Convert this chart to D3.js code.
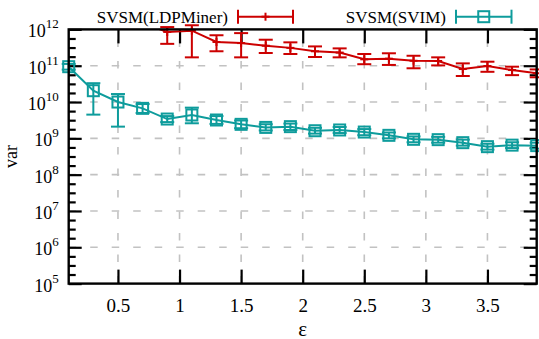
<!DOCTYPE html>
<html>
<head>
<meta charset="utf-8">
<script src="https://cdn.jsdelivr.net/npm/d3@7"></script>
<style>
  html, body { margin: 0; padding: 0; background: #fff; }
  svg { display: block; }
  svg text { font-family: "Liberation Serif", "Times New Roman", "DejaVu Serif", serif; }
</style>
</head>
<body>
<svg id="chart" width="539" height="339"></svg>
<script>
// ---- data -------------------------------------------------------------
// SVSM(SVIM): one point every 0.2 of epsilon
const svimEps  = [0.1, 0.3, 0.5, 0.7, 0.9, 1.1, 1.3, 1.5, 1.7, 1.9, 2.1, 2.3, 2.5, 2.7, 2.9, 3.1, 3.3, 3.5, 3.7, 3.9];
const svimVar  = [9.4e10, 2.05e10, 1.0e10, 6.7e9, 3.4e9, 4.4e9, 3.2e9, 2.43e9, 2.0e9, 2.1e9, 1.62e9, 1.7e9, 1.49e9, 1.21e9, 9.4e8, 9.2e8, 7.6e8, 5.9e8, 6.5e8, 6.3e8];
const svimLow  = [7.8e10, 4.5e9, 2.1e9, 5.0e9, 2.8e9, 2.6e9, 2.5e9, 1.9e9, 1.65e9, 1.7e9, 1.35e9, 1.4e9, 1.22e9, 1.0e9, 7.8e8, 7.6e8, 6.3e8, 4.9e8, 5.4e8, 5.2e8];
const svimHigh = [1.12e11, 3.3e10, 1.66e10, 8.8e9, 4.1e9, 7.0e9, 4.1e9, 3.1e9, 2.45e9, 2.55e9, 1.95e9, 2.05e9, 1.8e9, 1.45e9, 1.13e9, 1.1e9, 9.2e8, 7.1e8, 7.8e8, 7.6e8];

// SVSM(LDPMiner): the 0.7 point lies above the plotted range
const ldpEps  = [0.7, 0.9, 1.1, 1.3, 1.5, 1.7, 1.9, 2.1, 2.3, 2.5, 2.7, 2.9, 3.1, 3.3, 3.5, 3.7, 3.9];
const ldpVar  = [1.5e12, 8.5e11, 9.2e11, 4.5e11, 4.2e11, 3.55e11, 3.1e11, 2.5e11, 2.3e11, 1.5e11, 1.56e11, 1.37e11, 1.35e11, 8.1e10, 9.8e10, 7.6e10, 6.2e10];
const ldpLow  = [1.1e12, 4.0e11, 1.7e11, 2.5e11, 1.7e11, 2.24e11, 2.1e11, 1.74e11, 1.7e11, 1.1e11, 1.05e11, 8.5e10, 1.02e11, 5.2e10, 6.8e10, 5.5e10, 4.8e10];
const ldpHigh = [2.0e12, 1.16e12, 1.3e12, 6.9e11, 7.9e11, 5.2e11, 4.4e11, 3.4e11, 3.0e11, 2.1e11, 2.2e11, 1.88e11, 1.7e11, 1.16e11, 1.29e11, 9.4e10, 7.9e10];

const xTickValues = [0.5, 1, 1.5, 2, 2.5, 3, 3.5];
const xTickLabels = ["0.5", "1", "1.5", "2", "2.5", "3", "3.5"];
const yExponents  = [5, 6, 7, 8, 9, 10, 11, 12];
const seriesNames = ["SVSM(LDPMiner)", "SVSM(SVIM)"];

// ---- layout -----------------------------------------------------------
const FONT = "Liberation Serif";
const plot = { left: 68.7, right: 536.7, top: 29.4, bottom: 283.6 };
const RED = "#cc0000", TEAL = "#0e9c9c", GRID = "#c2c2c2";
const MAJOR = 13, MINOR = 7;

const svg = d3.select("#chart");

const x = d3.scaleLinear().domain([0.1, 3.9]).range([plot.left, plot.right]);
const y = d3.scaleLog().domain([1e5, 1e12]).range([plot.bottom, plot.top]);

const majorY = yExponents.map(e => Math.pow(10, e));
const minorY = [];
yExponents.slice(0, -1).forEach(e => [0.25, 0.5, 0.75].forEach(f => minorY.push(Math.pow(10, e + f))));

svg.append("defs").append("clipPath").attr("id", "plot-clip")
  .append("rect")
  .attr("x", plot.left).attr("y", plot.top)
  .attr("width", plot.right - plot.left).attr("height", plot.bottom - plot.top);

// ---- grid -------------------------------------------------------------
const grid = svg.append("g").attr("stroke", GRID).attr("stroke-width", 1.6)
  .attr("stroke-dasharray", "7.5,14");
grid.selectAll("line.gx").data(xTickValues).join("line").attr("class", "gx")
  .attr("x1", d => x(d)).attr("x2", d => x(d))
  .attr("y1", plot.bottom).attr("y2", plot.top);
grid.selectAll("line.gy").data(majorY.slice(1, -1)).join("line").attr("class", "gy")
  .attr("x1", plot.left).attr("x2", plot.right)
  .attr("y1", d => y(d)).attr("y2", d => y(d));

// ---- axes (ticks pointing inwards, mirrored on all four sides) -------
function styleAxis(g) {
  g.attr("font-family", FONT);
  g.selectAll("path").remove();
  g.selectAll(".tick line").attr("stroke", "#000").attr("stroke-width", 2.2);
}
svg.append("g").attr("transform", `translate(0,${plot.bottom})`)
  .call(d3.axisBottom(x).tickValues(xTickValues).tickSizeInner(-14).tickSizeOuter(0)
    .tickPadding(15).tickFormat((d, i) => xTickLabels[i]))
  .call(styleAxis)
  .call(g => g.selectAll(".tick text").attr("font-size", 19).attr("fill", "#000")
    .attr("font-family", FONT));

svg.append("g").attr("transform", `translate(0,${plot.top})`)
  .call(d3.axisTop(x).tickValues(xTickValues).tickSizeInner(-14).tickSizeOuter(0).tickFormat(""))
  .call(styleAxis);

const leftAxis = svg.append("g").attr("transform", `translate(${plot.left},0)`)
  .call(d3.axisLeft(y).tickValues(majorY).tickSizeInner(-MAJOR).tickSizeOuter(0)
    .tickPadding(10).tickFormat(() => ""))
  .call(styleAxis);
leftAxis.selectAll(".tick text")
  .attr("x", -10).attr("dy", 7.5).attr("text-anchor", "end")
  .attr("font-size", 18).attr("fill", "#000").attr("font-family", FONT)
  .each(function(d) {
    const t = d3.select(this);
    t.append("tspan").text("10");
    t.append("tspan").attr("font-size", 13).attr("dy", -9)
      .text(Math.round(Math.log10(d)));
  });

svg.append("g").attr("transform", `translate(${plot.left},0)`)
  .call(d3.axisLeft(y).tickValues(minorY).tickSizeInner(-MINOR).tickSizeOuter(0).tickFormat(""))
  .call(styleAxis);
svg.append("g").attr("transform", `translate(${plot.right},0)`)
  .call(d3.axisRight(y).tickValues(majorY).tickSizeInner(-MAJOR).tickSizeOuter(0).tickFormat(""))
  .call(styleAxis);
svg.append("g").attr("transform", `translate(${plot.right},0)`)
  .call(d3.axisRight(y).tickValues(minorY).tickSizeInner(-MINOR).tickSizeOuter(0).tickFormat(""))
  .call(styleAxis);

// ---- series -----------------------------------------------------------
const CAP = 7;
function drawSeries(eps, vals, lo, hi, color, marker) {
  const g = svg.append("g");
  const pts = eps.map((e, i) => ({ e, v: vals[i], lo: lo[i], hi: hi[i] }));
  g.append("path")
    .datum(pts)
    .attr("clip-path", "url(#plot-clip)")
    .attr("fill", "none").attr("stroke", color).attr("stroke-width", 2)
    .attr("d", d3.line().x(d => x(d.e)).y(d => y(d.v)));
  const inside = pts.filter(d => d.v <= 1e12 && d.v >= 1e5);
  const bars = g.selectAll("g.bar").data(inside).join("g")
    .attr("stroke", color).attr("stroke-width", 2).attr("fill", "none");
  bars.append("line").attr("x1", d => x(d.e)).attr("x2", d => x(d.e))
    .attr("y1", d => y(d.lo)).attr("y2", d => y(d.hi));
  bars.append("line").attr("x1", d => x(d.e) - CAP).attr("x2", d => x(d.e) + CAP)
    .attr("y1", d => y(d.lo)).attr("y2", d => y(d.lo));
  bars.append("line").attr("x1", d => x(d.e) - CAP).attr("x2", d => x(d.e) + CAP)
    .attr("y1", d => y(d.hi)).attr("y2", d => y(d.hi));
  bars.each(function(d) { marker(d3.select(this), x(d.e), y(d.v)); });
}
function plusMarker(sel, cx, cy) {
  sel.append("line").attr("x1", cx - 4).attr("x2", cx + 4).attr("y1", cy).attr("y2", cy);
  sel.append("line").attr("x1", cx).attr("x2", cx).attr("y1", cy - 4).attr("y2", cy + 4);
}
function squareMarker(sel, cx, cy) {
  sel.append("rect").attr("x", cx - 5.5).attr("y", cy - 5.5).attr("width", 11).attr("height", 11);
}

drawSeries(ldpEps, ldpVar, ldpLow, ldpHigh, RED, plusMarker);
drawSeries(svimEps, svimVar, svimLow, svimHigh, TEAL, squareMarker);

// ---- border -----------------------------------------------------------
svg.append("rect")
  .attr("x", plot.left).attr("y", plot.top)
  .attr("width", plot.right - plot.left).attr("height", plot.bottom - plot.top)
  .attr("fill", "none").attr("stroke", "#000").attr("stroke-width", 2.4);

// ---- legend -----------------------------------------------------------
const legendY = 16.7;
const legend = [
  { name: seriesNames[0], textEnd: 228, x0: 238, x1: 293, color: RED, marker: plusMarker },
  { name: seriesNames[1], textEnd: 446, x0: 456, x1: 511.5, color: TEAL, marker: squareMarker }
];
legend.forEach(l => {
  svg.append("text").attr("x", l.textEnd).attr("y", legendY + 6.5)
    .attr("text-anchor", "end").attr("font-size", 17).attr("fill", "#000")
    .attr("font-family", FONT)
    .text(l.name);
  const g = svg.append("g").attr("stroke", l.color).attr("stroke-width", 2).attr("fill", "none");
  g.append("line").attr("x1", l.x0).attr("x2", l.x1).attr("y1", legendY).attr("y2", legendY);
  g.append("line").attr("x1", l.x0).attr("x2", l.x0).attr("y1", legendY - CAP).attr("y2", legendY + CAP);
  g.append("line").attr("x1", l.x1).attr("x2", l.x1).attr("y1", legendY - CAP).attr("y2", legendY + CAP);
  l.marker(g, (l.x0 + l.x1) / 2, legendY);
});

// ---- axis titles ------------------------------------------------------
svg.append("text").attr("x", (plot.left + plot.right) / 2).attr("y", 335.5)
  .attr("text-anchor", "middle").attr("font-size", 21).attr("fill", "#000")
  .attr("font-family", FONT).text("ε");
svg.append("text")
  .attr("transform", `translate(17,${(plot.top + plot.bottom) / 2}) rotate(-90)`)
  .attr("text-anchor", "middle").attr("font-size", 18).attr("fill", "#000")
  .attr("font-family", FONT).text("var");
</script>
</body>
</html>
